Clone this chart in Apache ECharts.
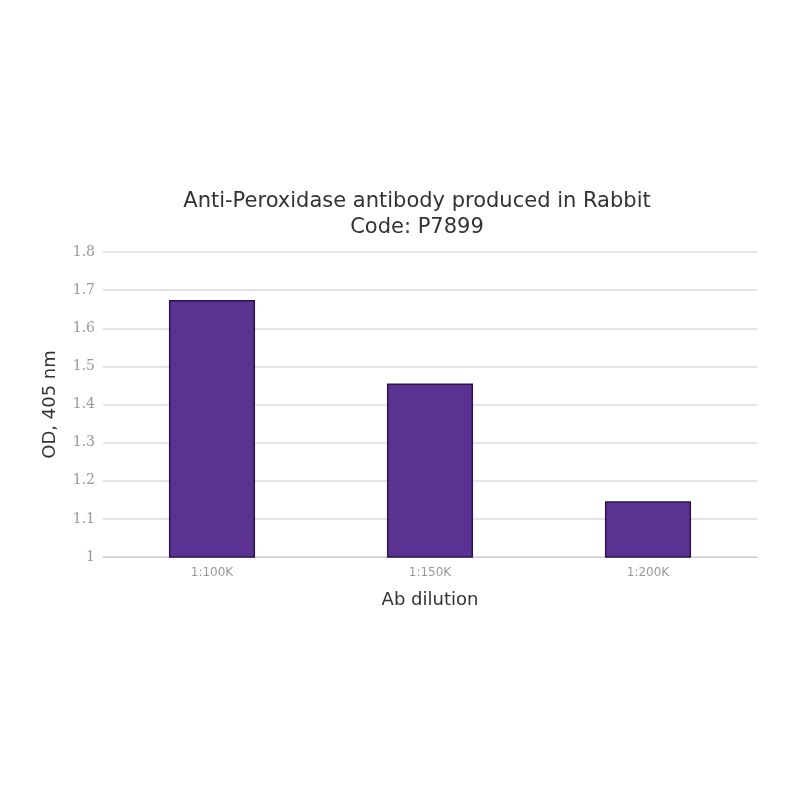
<!DOCTYPE html>
<html>
<head>
<meta charset="utf-8">
<script src="https://cdn.jsdelivr.net/npm/echarts@6/dist/echarts.min.js"></script>
<style>
  html, body { margin: 0; padding: 0; background: #fff; }
  #main { width: 800px; height: 800px; }
</style>
</head>
<body>
<div id="main"></div>
<script>
var dilutions = ['1:100K', '1:150K', '1:200K'];
var odValues = [1.674, 1.455, 1.146];
var yTicks = { min: 1, max: 1.8, step: 0.1 };

var chartDom = document.getElementById('main');
var myChart = echarts.init(chartDom);
var option;

option = {
  backgroundColor: '#fff',
  animation: false,
  title: {
    text: 'Anti-Peroxidase antibody produced in Rabbit\nCode: P7899',
    left: 412,
    top: 184,
    textAlign: 'center',
    textStyle: {
      fontFamily: 'DejaVu Sans',
      fontSize: 21,
      fontWeight: 'normal',
      color: '#333',
      lineHeight: 26
    }
  },
  grid: {
    left: 103,
    right: 43,
    top: 252,
    bottom: 243
  },
  xAxis: {
    type: 'category',
    data: dilutions,
    name: 'Ab dilution',
    nameLocation: 'middle',
    nameGap: 34,
    nameTextStyle: { fontFamily: 'DejaVu Sans', fontSize: 18, color: '#333' },
    axisLine: { lineStyle: { color: '#ccc' } },
    axisTick: { show: false },
    axisLabel: { fontFamily: 'DejaVu Sans', fontSize: 12, color: '#999', margin: 10 }
  },
  yAxis: {
    type: 'value',
    min: yTicks.min,
    max: yTicks.max,
    interval: yTicks.step,
    name: 'OD, 405 nm',
    nameLocation: 'middle',
    nameGap: 44,
    nameMoveOverlap: false,
    nameTextStyle: { fontFamily: 'DejaVu Sans', fontSize: 18, color: '#333' },
    axisLine: { show: false },
    axisTick: { show: false },
    axisLabel: {
      fontFamily: 'DejaVu Serif',
      fontSize: 14,
      color: '#999',
      margin: 8,
      formatter: function (v) { return String(Math.round(v * 10) / 10); }
    },
    splitLine: { lineStyle: { color: '#ddd', width: 1.5 } }
  },
  series: [
    {
      type: 'bar',
      data: odValues,
      barWidth: '39.5%',
      itemStyle: {
        color: '#5b3192',
        borderColor: '#2b1450',
        borderWidth: 1.5
      }
    }
  ]
};

option && myChart.setOption(option);
</script>
</body>
</html>
